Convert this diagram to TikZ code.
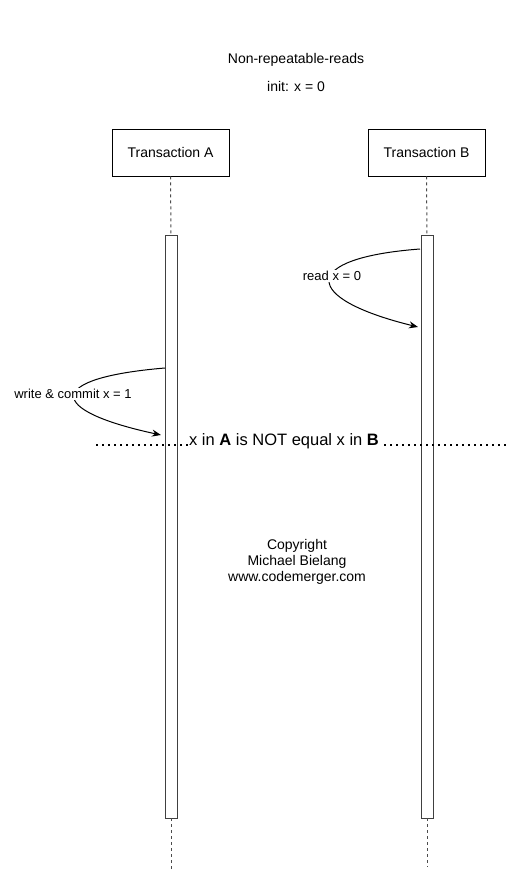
\documentclass[tikz,border=0pt]{standalone}
\usepackage{fontspec}
\setmainfont{Liberation Sans}
\usetikzlibrary{arrows.meta}
\begin{document}
\begin{tikzpicture}[x=1pt,y=-1pt,
  txbox/.style={draw=black,line width=0.9pt,minimum width=117pt,minimum height=47pt,inner sep=0pt,font=\fontsize{14}{16}\selectfont},
  actbar/.style={draw=black!75,line width=0.9pt,fill=white,minimum width=12pt,inner sep=0pt},
  lifeline/.style={draw=black!70,line width=1pt,dash pattern=on 3pt off 3pt},
  msg/.style={draw=black,line width=1pt,-{Stealth[length=9pt,width=7pt]}},
  lbl/.style={fill=white,inner sep=1pt,font=\fontsize{13}{15}\selectfont},
  plain/.style={inner sep=0pt,font=\fontsize{14}{16}\selectfont}]
\useasboundingbox (0,0) rectangle (528,889);
\node[plain] (title) at (296,60) {Non-repeatable-reads};
\node[plain] (init) at (296,86) {init: x = 0};
\node[txbox] (ta) at (170.5,152.5) {Transaction A};
\node[txbox] (tb) at (426.5,152.5) {Transaction B};
\node[actbar,minimum height=583pt] (ba) at (171,526.5) {};
\node[actbar,minimum height=583pt] (bb) at (427,526.5) {};
\coordinate (aend) at (171,871);
\coordinate (bend) at (427,867);
\draw[lifeline] (ta.south) -- (ba.north);
\draw[lifeline] (tb.south) -- (bb.north);
\draw[lifeline] (ba.south) -- (aend);
\draw[lifeline] (bb.south) -- (bend);
% dotted separator
\coordinate (dl) at (96,445);
\coordinate (dr) at (508,445);
\draw[black,line width=1.6pt,dash pattern=on 1.6pt off 4.4pt] (dl) -- (dr);
\node[fill=white,inner sep=1pt,font=\fontsize{16.5}{18}\selectfont] (neq) at (284,441) {x in \textbf{A} is NOT equal x in \textbf{B}};
% read message
\coordinate (rs) at (420,249);
\coordinate (re) at (418,327);
\draw[msg] (rs) .. controls (300,258) and (300,298) .. (re);
\node[lbl] (rl) at (332,276) {read x = 0};
% write message
\coordinate (ws) at (165,368);
\coordinate (we) at (161,435);
\draw[msg] (ws) .. controls (45,378) and (45,410) .. (we);
\node[lbl] (wl) at (73,394) {write \& commit x = 1};
\node[plain,align=center,font=\fontsize{14}{16}\selectfont] (copy) at (297,562) {Copyright\\Michael Bielang\\www.codemerger.com};
\end{tikzpicture}
\end{document}
